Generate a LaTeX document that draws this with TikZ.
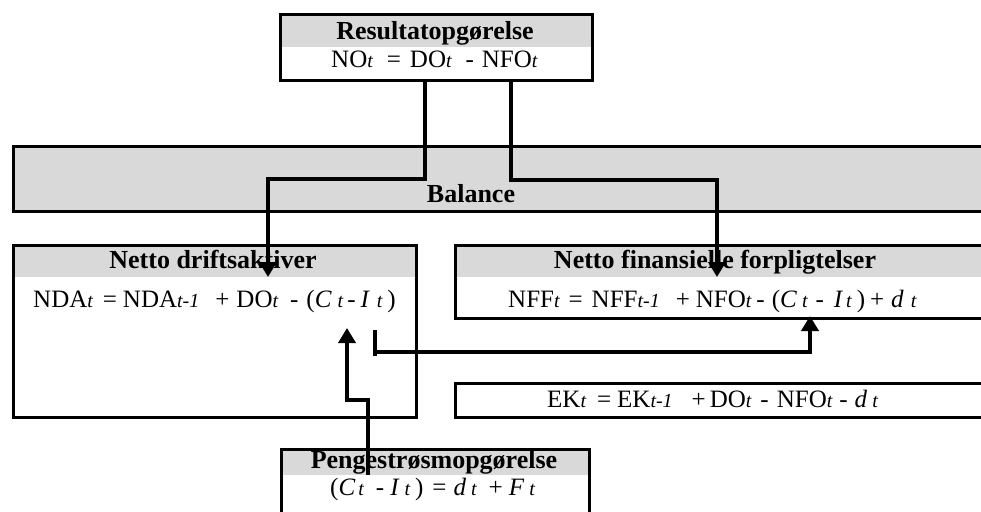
\documentclass[tikz,border=0pt]{standalone}
\usepackage{fontspec}
\setmainfont{Liberation Serif}
\usetikzlibrary{arrows.meta}
\definecolor{hdrgray}{HTML}{D9D9D9}
\newcommand{\sbt}[1]{{\fontsize{20}{20}\selectfont\itshape #1}}
\newcommand{\myhs}[1]{\hspace*{#1pt}}
\begin{document}
\begin{tikzpicture}[x=1pt,y=-1pt,
  frame/.style={draw=black,line width=3pt,inner sep=0pt,anchor=north west},
  hdr/.style={fill=hdrgray,draw=none,inner sep=0pt,anchor=north west},
  ttl/.style={font=\fontsize{26}{26}\selectfont\bfseries,anchor=base,inner sep=0pt},
  eqn/.style={font=\fontsize{25}{25}\selectfont,anchor=base west,inner sep=0pt},
  conn/.style={line width=4.5pt,-{Triangle[length=15pt,width=17pt]}},
  plain/.style={line width=4.5pt}]
\useasboundingbox (0,0) rectangle (981,511);
\clip (0,0) rectangle (981,511);
% Resultatopgoerelse
\node[hdr,minimum width=312pt,minimum height=34pt] (reshdr) at (279,13) {};
\node[frame,minimum width=312pt,minimum height=66pt] (res) at (279,13) {};
\node[ttl] (restitle) at (435,40) {Resultatopgørelse};
\node[eqn] (reseq) at (331,67) {NO\sbt{t}\myhs{14}=\myhs{9}DO\sbt{t}\myhs{14}-\myhs{8}NFO\sbt{t}};
% Balance
\node[frame,fill=hdrgray,minimum width=990pt,minimum height=65pt] (bal) at (12,145) {};
\node[ttl] (baltitle) at (471,202) {Balance};
% Netto driftsaktiver
\node[hdr,minimum width=403pt,minimum height=33pt] (ndahdr) at (12,244) {};
\node[frame,minimum width=403pt,minimum height=172pt] (nda) at (12,244) {};
\node[ttl] (ndatitle) at (213,268) {Netto driftsaktiver};
\node[eqn] (ndaeq) at (33,307) {NDA\sbt{t}\myhs{10}=\myhs{6}NDA\sbt{t-1}\myhs{16}+\myhs{7}DO\sbt{t}\myhs{12}-\myhs{8}(\textit{C}\myhs{6}\sbt{t}\myhs{4}-\myhs{5}\textit{I}\myhs{7}\sbt{t}\myhs{5})};
% Netto finansielle forpligtelser
\node[hdr,minimum width=560pt,minimum height=33pt] (nffhdr) at (454,244) {};
\node[frame,minimum width=560pt,minimum height=73pt] (nff) at (454,244) {};
\node[ttl] (nfftitle) at (715,268) {Netto finansielle forpligtelser};
\node[eqn] (nffeq) at (508,307) {NFF\sbt{t}\myhs{9}=\myhs{9}NFF\sbt{t-1}\myhs{16}+\myhs{6}NFO\sbt{t}\myhs{5}-\myhs{7}(\textit{C}\myhs{5}\sbt{t}\myhs{8}-\myhs{10}\textit{I}\myhs{3}\sbt{t}\myhs{5})\myhs{5}+\myhs{7}\textit{d}\myhs{7}\sbt{t}};
% EK
\node[frame,minimum width=560pt,minimum height=34pt] (ek) at (454,382) {};
\node[eqn] (ekeq) at (547,407) {EK\sbt{t}\myhs{11}=\myhs{6}EK\sbt{t-1}\myhs{19}+\myhs{4}DO\sbt{t}\myhs{9}-\myhs{8}NFO\sbt{t}\myhs{7}-\myhs{7}\textit{d}\myhs{5}\sbt{t}};
% Pengestroemsopgoerelse
\node[hdr,minimum width=308pt,minimum height=27pt] (penghdr) at (280,448) {};
\node[frame,minimum width=308pt,minimum height=90pt] (peng) at (280,448) {};
\node[ttl] (pengtitle) at (434,468) {Pengestrøsmopgørelse};
\node[eqn] (pengeq) at (330,495) {(\textit{C}\myhs{3}\sbt{t}\myhs{12}-\myhs{6}\textit{I}\myhs{5}\sbt{t}\myhs{5})\myhs{9}=\myhs{7}\textit{d}\myhs{5}\sbt{t}\myhs{12}+\myhs{6}\textit{F}\myhs{5}\sbt{t}};
% connector points
\coordinate (resL) at (425,79);
\coordinate (resR) at (511,79);
\coordinate (ndaIn) at (268,277);
\coordinate (nffIn) at (717,277);
\coordinate (pengOut) at (368,475);
\coordinate (ndaCI) at (347,328);
\coordinate (barTop) at (375,330);
\coordinate (barBot) at (375,356);
\coordinate (barMid) at (375,352);
\coordinate (nffCI) at (810,316);
% connectors
\draw[conn] (resL) -- ++(0,100) -| (ndaIn);
\draw[conn] (resR) -- ++(0,101) -| (nffIn);
\draw[conn] (pengOut) -- ++(0,-75) -| (ndaCI);
\draw[plain] (barTop) -- (barBot);
\draw[conn] (barMid) -| (nffCI);
\end{tikzpicture}
\end{document}
